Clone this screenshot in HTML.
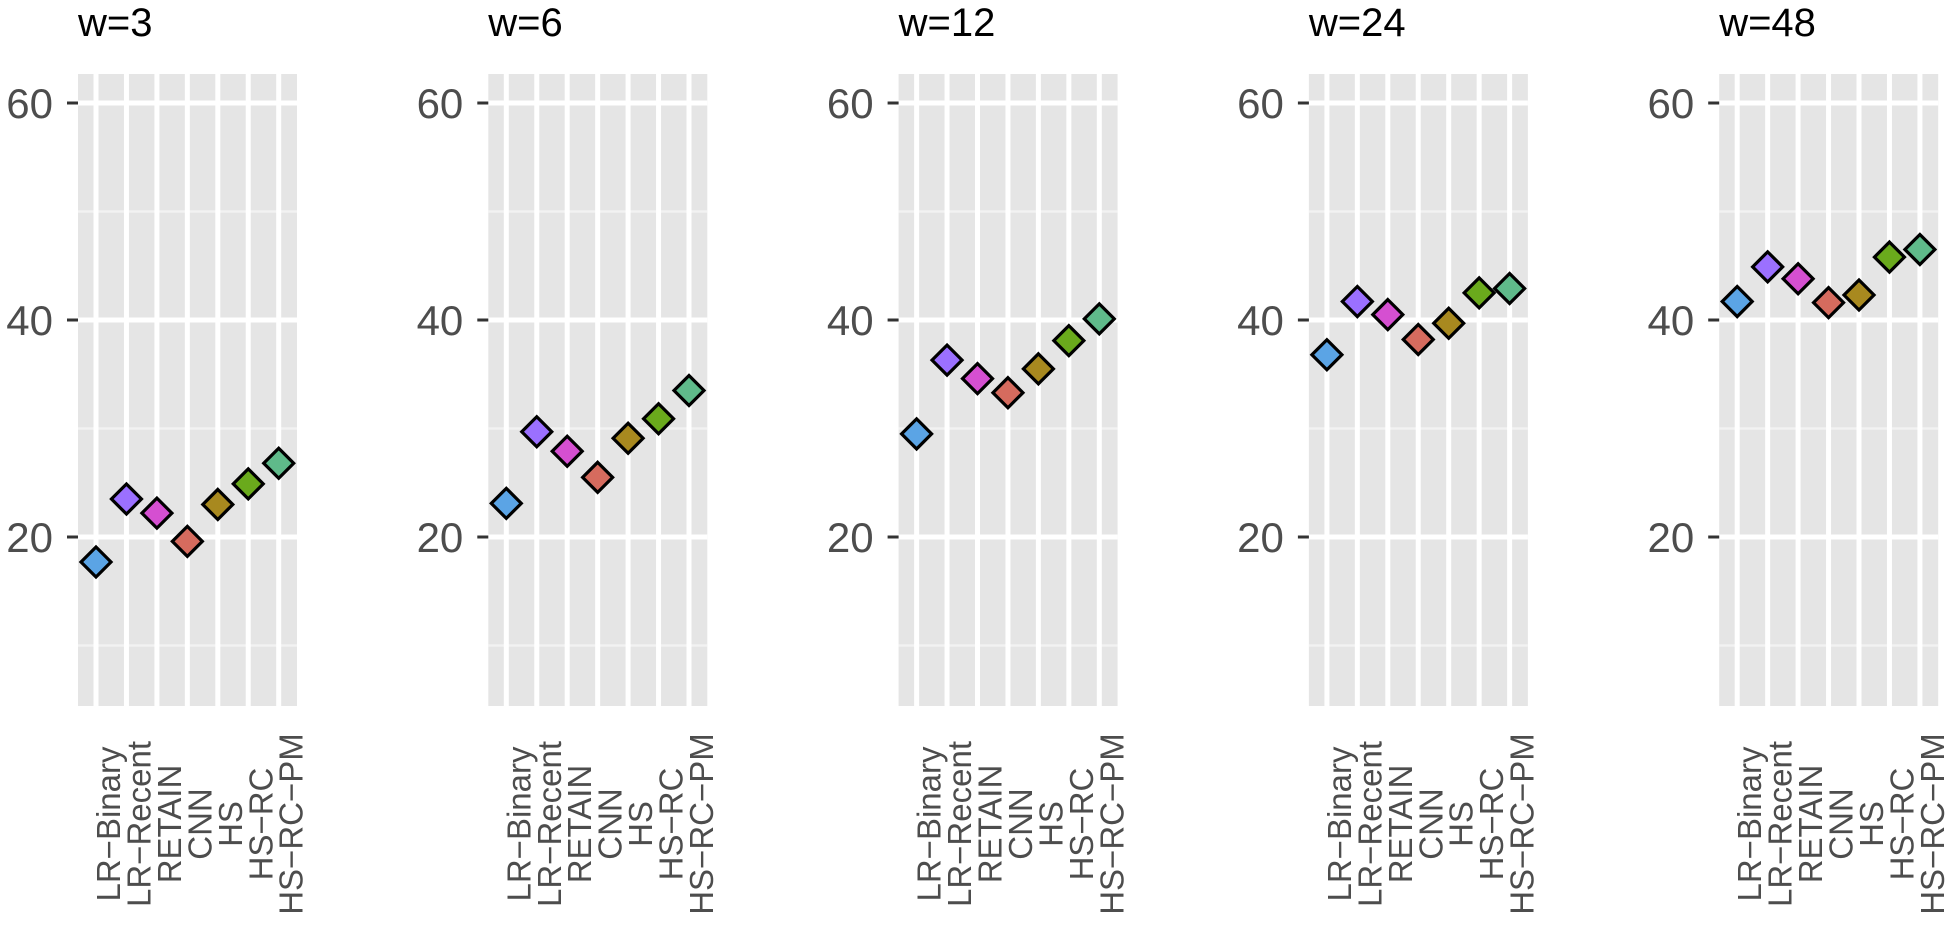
<!DOCTYPE html>
<html><head><meta charset="utf-8"><style>
html,body{margin:0;padding:0;background:#fff;width:1950px;height:925px;overflow:hidden}
</style></head><body>
<svg id="s" xmlns="http://www.w3.org/2000/svg" width="1950" height="925" font-family="Liberation Sans, sans-serif"></svg>
<script>
(function(){
const sv=document.getElementById('s');
const labels=["LR\u2212Binary","LR\u2212Recent","RETAIN","CNN","HS","HS\u2212RC","HS\u2212RC\u2212PM"];
const cols=["#5ba4e5","#9b70ff","#d54fd1","#d66b5e","#a8891f","#6aaa1c","#5fba8a"];
const titles=["w=3","w=6","w=12","w=24","w=48"];
const data=[
[17.7,23.5,22.2,19.6,23.0,24.9,26.8],
[23.1,29.7,27.9,25.5,29.1,30.9,33.5],
[29.5,36.3,34.6,33.3,35.5,38.1,40.1],
[36.8,41.7,40.5,38.2,39.7,42.5,42.9],
[41.7,44.9,43.8,41.6,42.3,45.8,46.5]];
const yTop=74,yBot=706,W=219;
const Y=v=>103+(60-v)*10.85;
let h='';
for(let p=0;p<5;p++){
 const L=78+p*410.3;
 h+=`<rect x="${L}" y="${yTop}" width="${W}" height="${yBot-yTop}" fill="#e5e5e5"/>`;
 [50,30,10].forEach(v=>h+=`<line x1="${L}" x2="${L+W}" y1="${Y(v)}" y2="${Y(v)}" stroke="#f2f2f2" stroke-width="2.5"/>`);
 [60,40,20].forEach(v=>h+=`<line x1="${L}" x2="${L+W}" y1="${Y(v)}" y2="${Y(v)}" stroke="#fff" stroke-width="5"/>`);
 for(let i=0;i<7;i++){const x=L+18+i*30.45;h+=`<line x1="${x}" x2="${x}" y1="${yTop}" y2="${yBot}" stroke="#fff" stroke-width="5"/>`;}
 [60,40,20].forEach(v=>{h+=`<line x1="${L-11}" x2="${L}" y1="${Y(v)}" y2="${Y(v)}" stroke="#333" stroke-width="3"/>`;
  h+=`<text x="${L-25}" y="${Y(v)+15}" font-size="42" fill="#4d4d4d" text-anchor="end">${v}</text>`;});
 h+=`<text x="${L}" y="36" font-size="40" fill="#000">${titles[p]}</text>`;
 for(let i=0;i<7;i++){const x=L+18+i*30.45,y=Y(data[p][i]),r=15;
  h+=`<path d="M${x} ${y-r}L${x+r} ${y}L${x} ${y+r}L${x-r} ${y}Z" fill="${cols[i]}" stroke="#000" stroke-width="3.2"/>`;
  const tx=x+24,ty=824;
  h+=`<text x="${tx}" y="${ty}" font-size="33" fill="#4d4d4d" text-anchor="middle" transform="rotate(-90 ${tx} ${ty})">${labels[i]}</text>`;}
}
sv.innerHTML=h;
})();
</script>
</body></html>
